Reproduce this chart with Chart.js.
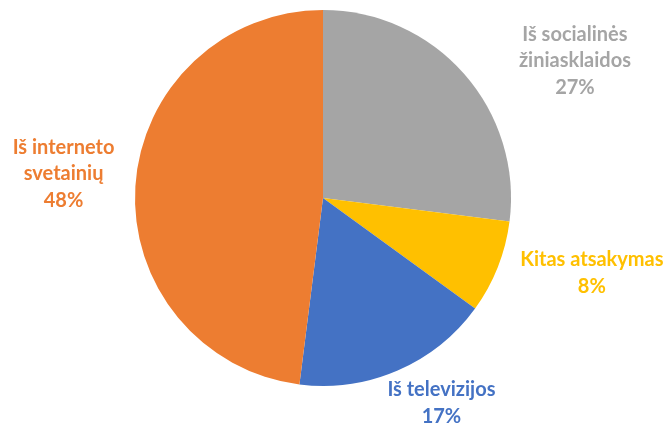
<!DOCTYPE html>
<html>
<head>
<meta charset="utf-8">
<script src="https://cdn.jsdelivr.net/npm/chart.js@4"></script>
<style>
  html, body { margin: 0; padding: 0; background: #ffffff; }
  #wrap { width: 671px; height: 428px; position: relative; }
</style>
</head>
<body>
<div id="wrap"><canvas id="c" width="671" height="428"></canvas></div>
<script>
// Data
const categories = ["Iš socialinės žiniasklaidos", "Kitas atsakymas", "Iš televizijos", "Iš interneto svetainių"];
const labelLines = [["Iš socialinės", "žiniasklaidos"], ["Kitas atsakymas"], ["Iš televizijos"], ["Iš interneto", "svetainių"]];
const shares = [27, 8, 17, 48];
const colors = ["#A5A5A5", "#FFC000", "#4472C4", "#ED7D31"];
const textColors = ["#A5A5A5", "#FFC000", "#4472C4", "#ED7D31"];
// label anchor offsets relative to pie centre, in units of radius (layout only)
const labelOffsets = [[1.34, -0.73], [1.43, 0.40], [0.63, 1.09], [-1.38, -0.13]];

const labelPlugin = {
  id: 'sliceLabels',
  afterDraw(chart) {
    const ctx = chart.ctx;
    const meta = chart.getDatasetMeta(0);
    const arc0 = meta.data[0];
    const cx = arc0.x, cy = arc0.y, r = arc0.outerRadius;
    const lh = 26.5;
    ctx.save();
    ctx.font = 'bold 20px Lato, "Open Sans", sans-serif';
    ctx.textAlign = 'center';
    ctx.textBaseline = 'middle';
    meta.data.forEach((arc, i) => {
      const lines = labelLines[i].concat([shares[i] + '%']);
      const x = cx + labelOffsets[i][0] * r;
      const y0 = cy + labelOffsets[i][1] * r - (lines.length - 1) * lh / 2;
      ctx.fillStyle = textColors[i];
      lines.forEach((t, k) => ctx.fillText(t, x, y0 + k * lh));
    });
    ctx.restore();
  }
};

new Chart(document.getElementById('c'), {
  type: 'pie',
  data: {
    labels: categories,
    datasets: [{
      data: shares,
      backgroundColor: colors,
      borderWidth: 0
    }]
  },
  options: {
    responsive: false,
    animation: false,
    layout: { padding: { left: 135, right: 160, top: 10, bottom: 42 } },
    plugins: {
      legend: { display: false },
      tooltip: { enabled: false }
    }
  },
  plugins: [labelPlugin]
});
</script>
</body>
</html>
